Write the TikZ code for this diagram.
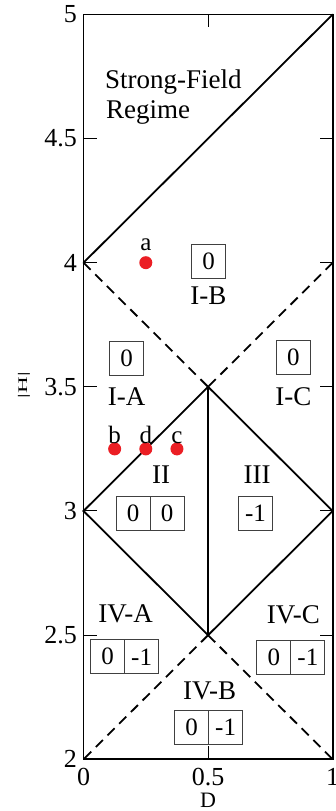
\documentclass[tikz,border=0pt]{standalone}
\usepackage{fontspec}
\setmainfont{Liberation Serif}
\definecolor{dotred}{RGB}{235,30,36}
\begin{document}
\begin{tikzpicture}[
  x=1pt,y=1pt,
  frame/.style={line width=1.6pt},
  bound/.style={line width=1.8pt, line cap=round},
  dashbound/.style={line width=1.8pt, dash pattern=on 10pt off 6.5pt},
  tickmark/.style={line width=1pt},
  ticklab/.style={font=\fontsize{26}{26}\selectfont, inner sep=0pt},
  reglab/.style={font=\fontsize{27}{27}\selectfont, inner sep=0pt},
  numbox/.style={draw=black!75, line width=0.9pt, minimum width=34pt, minimum height=34pt, inner sep=0pt, outer sep=0pt, font=\fontsize{25}{25}\selectfont},
  dotpt/.style={circle, fill=dotred, minimum size=13pt, inner sep=0pt},
  ptlab/.style={font=\fontsize{25}{25}\selectfont, inner sep=0pt, anchor=base},
]
\useasboundingbox (0,0) rectangle (335,811);
\begin{scope}[x=249.2pt, y=248.3pt, shift={(83.5pt,51.7pt)}]
  % corners and vertices
  \coordinate (LL) at (0,0);
  \coordinate (LR) at (1,0);
  \coordinate (UL) at (0,3);
  \coordinate (UR) at (1,3);
  \coordinate (L4) at (0,2);
  \coordinate (R4) at (1,2);
  \coordinate (X1) at (0.5,1.5);
  \coordinate (L3) at (0,1);
  \coordinate (R3) at (1,1);
  \coordinate (X2) at (0.5,0.5);
  % frame
  \draw[frame] (LL) rectangle (UR);
  % ticks
  \foreach \y in {0.5,1,1.5,2,2.5} {
    \draw[tickmark] (0,\y) -- ++(13pt,0);
    \draw[tickmark] (1,\y) -- ++(-13pt,0);
  }
  \draw[tickmark] (0.5,0) -- ++(0,13pt);
  \draw[tickmark] (0.5,3) -- ++(0,-13pt);
  % tick labels
  \foreach \y/\t in {0/2,0.5/2.5,1/3,1.5/3.5,2/4,2.5/4.5,3/5} {
    \node[ticklab, anchor=east] at ([xshift=-6.5pt]0,\y) {\t};
  }
  \foreach \x/\t in {0/0,0.5/0.5,1/1} {
    \node[ticklab, anchor=base] at ([yshift=-26.5pt]\x,0) {\t};
  }
  \node[font=\fontsize{22}{22}\selectfont, inner sep=0pt, anchor=base] (xlab) at ([yshift=-47.8pt]0.5,0) {D};
  \node[rotate=90, inner sep=0pt, font=\fontsize{22}{22}\selectfont] (ylab) at (-0.239,1.507) {\scalebox{1.05}[0.6]{|H|}};
  % boundaries
  \draw[bound] (L4) -- (UR);
  \draw[dashbound] (L4) -- (X1);
  \draw[dashbound] (R4) -- (X1);
  \draw[dashbound] (X2) -- (LL);
  \draw[dashbound] (X2) -- (LR);
  \draw[bound] (X1) -- (R3) -- (X2) -- (L3) -- cycle;
  \draw[bound] (X1) -- (X2);
  % text
  \node[reglab, anchor=base west] (sf1) at ([xshift=21.5pt,yshift=-74pt]UL) {Strong-Field};
  \node[reglab, anchor=base west] (sf2) at ([xshift=22.5pt,yshift=-104pt]UL) {Regime};
  % regions
  \node[reglab] (IB) at (0.501,1.866) {I-B};
  \node[numbox] (bIB) at (0.502,2.004) {0};
  \node[reglab] (IA) at (0.173,1.460) {I-A};
  \node[numbox] (bIA) at (0.173,1.613) {0};
  \node[reglab] (IC) at (0.842,1.460) {I-C};
  \node[numbox] (bIC) at (0.842,1.619) {0};
  \node[reglab] (II) at (0.311,1.145) {II};
  \node[reglab] (III) at (0.697,1.145) {III};
  \node[numbox, anchor=east] (bIIa) at (0.267,0.992) {0};
  \node[numbox, anchor=west] (bIIb) at (bIIa.east) {0};
  \node[numbox] (bIII) at (0.690,0.992) {-1};
  \node[reglab] (IVA) at (0.169,0.584) {IV-A};
  \node[numbox, anchor=east] (bIVAa) at (0.165,0.413) {0};
  \node[numbox, anchor=west] (bIVAb) at (bIVAa.east) {-1};
  \node[reglab] (IVC) at (0.842,0.581) {IV-C};
  \node[numbox, anchor=east] (bIVCa) at (0.832,0.411) {0};
  \node[numbox, anchor=west] (bIVCb) at (bIVCa.east) {-1};
  \node[reglab] (IVB) at (0.506,0.276) {IV-B};
  \node[numbox, anchor=east] (bIVBa) at (0.502,0.129) {0};
  \node[numbox, anchor=west] (bIVBb) at (bIVBa.east) {-1};
  % points
  \node[dotpt] (pa) at (0.25,2.0) {};
  \node[dotpt] (pb) at (0.125,1.25) {};
  \node[dotpt] (pd) at (0.25,1.25) {};
  \node[dotpt] (pc) at (0.375,1.25) {};
  \node[ptlab] (la) at ([yshift=12pt]pa.center) {a};
  \node[ptlab] (lb) at ([yshift=5.3pt]pb.center) {b};
  \node[ptlab] (ld) at ([yshift=5.3pt]pd.center) {d};
  \node[ptlab] (lc) at ([yshift=5.3pt]pc.center) {c};
\end{scope}
\end{tikzpicture}
\end{document}
